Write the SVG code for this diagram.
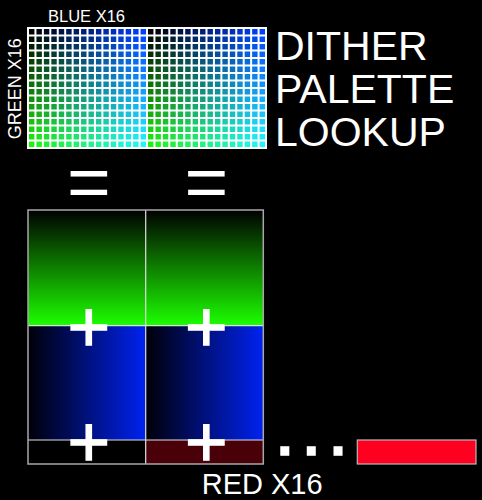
<svg xmlns="http://www.w3.org/2000/svg" width="482" height="500" viewBox="0 0 482 500">
<style>
text{font-family:"Liberation Sans",Arial,Helvetica,sans-serif;fill:#ffffff}
.grid{fill:none;stroke:#ffffff;stroke-width:2}
.op{font-size:75px;text-anchor:middle}
.plus{font-size:73px;text-anchor:middle;stroke:#ffffff;stroke-width:1.3}
.dots{font-size:56px;letter-spacing:11.1px;stroke:#ffffff;stroke-width:3.6;stroke-linejoin:miter}
.scr{mix-blend-mode:screen}
.sep{stroke:#e0e0e0;stroke-width:1.2;fill:none}
.frame{fill:none;stroke:#a8a8a8;stroke-width:1.5}
</style>
<defs>
<linearGradient id="gB" x1="0" y1="0" x2="1" y2="0">
<stop offset="0" stop-color="rgb(0,0,0)"/><stop offset=".0625" stop-color="rgb(0,0,0)"/>
<stop offset=".0625" stop-color="rgb(0,4,17)"/><stop offset=".125" stop-color="rgb(0,4,17)"/>
<stop offset=".125" stop-color="rgb(0,9,34)"/><stop offset=".1875" stop-color="rgb(0,9,34)"/>
<stop offset=".1875" stop-color="rgb(0,13,51)"/><stop offset=".25" stop-color="rgb(0,13,51)"/>
<stop offset=".25" stop-color="rgb(0,17,68)"/><stop offset=".3125" stop-color="rgb(0,17,68)"/>
<stop offset=".3125" stop-color="rgb(0,21,85)"/><stop offset=".375" stop-color="rgb(0,21,85)"/>
<stop offset=".375" stop-color="rgb(0,26,102)"/><stop offset=".4375" stop-color="rgb(0,26,102)"/>
<stop offset=".4375" stop-color="rgb(0,30,119)"/><stop offset=".5" stop-color="rgb(0,30,119)"/>
<stop offset=".5" stop-color="rgb(0,34,136)"/><stop offset=".5625" stop-color="rgb(0,34,136)"/>
<stop offset=".5625" stop-color="rgb(0,38,153)"/><stop offset=".625" stop-color="rgb(0,38,153)"/>
<stop offset=".625" stop-color="rgb(0,43,170)"/><stop offset=".6875" stop-color="rgb(0,43,170)"/>
<stop offset=".6875" stop-color="rgb(0,47,187)"/><stop offset=".75" stop-color="rgb(0,47,187)"/>
<stop offset=".75" stop-color="rgb(0,51,204)"/><stop offset=".8125" stop-color="rgb(0,51,204)"/>
<stop offset=".8125" stop-color="rgb(0,55,221)"/><stop offset=".875" stop-color="rgb(0,55,221)"/>
<stop offset=".875" stop-color="rgb(0,60,238)"/><stop offset=".9375" stop-color="rgb(0,60,238)"/>
<stop offset=".9375" stop-color="rgb(0,64,255)"/><stop offset="1" stop-color="rgb(0,64,255)"/>
</linearGradient>
<linearGradient id="gG" x1="0" y1="0" x2="0" y2="1">
<stop offset="0" stop-color="rgb(0,0,0)"/><stop offset=".0625" stop-color="rgb(0,0,0)"/>
<stop offset=".0625" stop-color="rgb(2,16,1)"/><stop offset=".125" stop-color="rgb(2,16,1)"/>
<stop offset=".125" stop-color="rgb(4,32,2)"/><stop offset=".1875" stop-color="rgb(4,32,2)"/>
<stop offset=".1875" stop-color="rgb(6,48,3)"/><stop offset=".25" stop-color="rgb(6,48,3)"/>
<stop offset=".25" stop-color="rgb(9,64,4)"/><stop offset=".3125" stop-color="rgb(9,64,4)"/>
<stop offset=".3125" stop-color="rgb(11,80,5)"/><stop offset=".375" stop-color="rgb(11,80,5)"/>
<stop offset=".375" stop-color="rgb(13,96,6)"/><stop offset=".4375" stop-color="rgb(13,96,6)"/>
<stop offset=".4375" stop-color="rgb(15,112,7)"/><stop offset=".5" stop-color="rgb(15,112,7)"/>
<stop offset=".5" stop-color="rgb(17,128,9)"/><stop offset=".5625" stop-color="rgb(17,128,9)"/>
<stop offset=".5625" stop-color="rgb(19,144,10)"/><stop offset=".625" stop-color="rgb(19,144,10)"/>
<stop offset=".625" stop-color="rgb(21,160,11)"/><stop offset=".6875" stop-color="rgb(21,160,11)"/>
<stop offset=".6875" stop-color="rgb(23,176,12)"/><stop offset=".75" stop-color="rgb(23,176,12)"/>
<stop offset=".75" stop-color="rgb(26,192,13)"/><stop offset=".8125" stop-color="rgb(26,192,13)"/>
<stop offset=".8125" stop-color="rgb(28,208,14)"/><stop offset=".875" stop-color="rgb(28,208,14)"/>
<stop offset=".875" stop-color="rgb(30,224,15)"/><stop offset=".9375" stop-color="rgb(30,224,15)"/>
<stop offset=".9375" stop-color="rgb(32,240,16)"/><stop offset="1" stop-color="rgb(32,240,16)"/>
</linearGradient>
<linearGradient id="greenV" x1="0" y1="0" x2="0" y2="1">
<stop offset="0" stop-color="#000000"/><stop offset="1" stop-color="#1cff00"/>
</linearGradient>
<linearGradient id="blueH" x1="0" y1="0" x2="1" y2="0">
<stop offset="0" stop-color="#000008"/><stop offset="1" stop-color="#0022f0"/>
</linearGradient>
</defs>
<rect width="482" height="500" fill="#000000"/>

<g id="palette-grid">
<g style="isolation:isolate">
<rect x="28" y="28" width="119" height="120" fill="url(#gB)"/>
<rect x="147" y="28" width="119" height="120" fill="url(#gB)"/>
<rect class="scr" x="28" y="28" width="119" height="120" fill="url(#gG)"/>
<rect class="scr" x="147" y="28" width="119" height="120" fill="url(#gG)"/>
</g>
<path class="grid" d="M28 28V148M35.44 28V148M42.88 28V148M50.31 28V148M57.75 28V148M65.19 28V148M72.63 28V148M80.06 28V148M87.5 28V148M94.94 28V148M102.38 28V148M109.81 28V148M117.25 28V148M124.69 28V148M132.13 28V148M139.56 28V148M147 28V148M154.44 28V148M161.88 28V148M169.31 28V148M176.75 28V148M184.19 28V148M191.63 28V148M199.06 28V148M206.5 28V148M213.94 28V148M221.38 28V148M228.81 28V148M236.25 28V148M243.69 28V148M251.13 28V148M258.56 28V148M266 28V148M27 28H267M27 35.5H267M27 43H267M27 50.5H267M27 58H267M27 65.5H267M27 73H267M27 80.5H267M27 88H267M27 95.5H267M27 103H267M27 110.5H267M27 118H267M27 125.5H267M27 133H267M27 140.5H267M27 148H267"/>
<text x="48" y="22.3" font-size="16.5">BLUE X16</text>
<text transform="translate(20.7,139.2) rotate(-90)" font-size="18">GREEN X16</text>
</g>

<g id="title">
<text x="275" y="60" font-size="41">DITHER</text>
<text x="275" y="102.7" font-size="41">PALETTE</text>
<text x="275" y="145.7" font-size="41">LOOKUP</text>
</g>

<g id="channel-block">
<rect x="28" y="210" width="117.7" height="115.7" fill="url(#greenV)"/>
<rect x="145.7" y="210" width="117.6" height="115.7" fill="url(#greenV)"/>
<rect x="28" y="325.7" width="117.7" height="114.3" fill="url(#blueH)"/>
<rect x="145.7" y="325.7" width="117.6" height="114.3" fill="url(#blueH)"/>
<rect x="28" y="440" width="117.7" height="24" fill="#000000"/>
<rect x="145.7" y="440" width="117.6" height="24" fill="#4a0008"/>
<path class="sep" d="M145.7 210V464M28 325.7H263.3M28 440H263.3"/>
<rect class="frame" x="28" y="210" width="235.3" height="254"/>
</g>

<g id="red-max">
<rect x="357.3" y="440" width="118.7" height="24" fill="#ff0020" stroke="#b8b8b8" stroke-width="1.2"/>
</g>

<g id="connectors">
<text class="op" x="88.9" y="207.2">=</text>
<text class="op" x="206.3" y="207.2">=</text>
<text class="plus" x="88.9" y="351.3">+</text>
<text class="plus" x="206.3" y="351.3">+</text>
<text class="plus" x="88.9" y="466">+</text>
<text class="plus" x="206.3" y="466">+</text>
<text class="dots" x="276.9" y="454.2">...</text>
</g>

<text x="201.7" y="494.3" font-size="29">RED X16</text>
</svg>
